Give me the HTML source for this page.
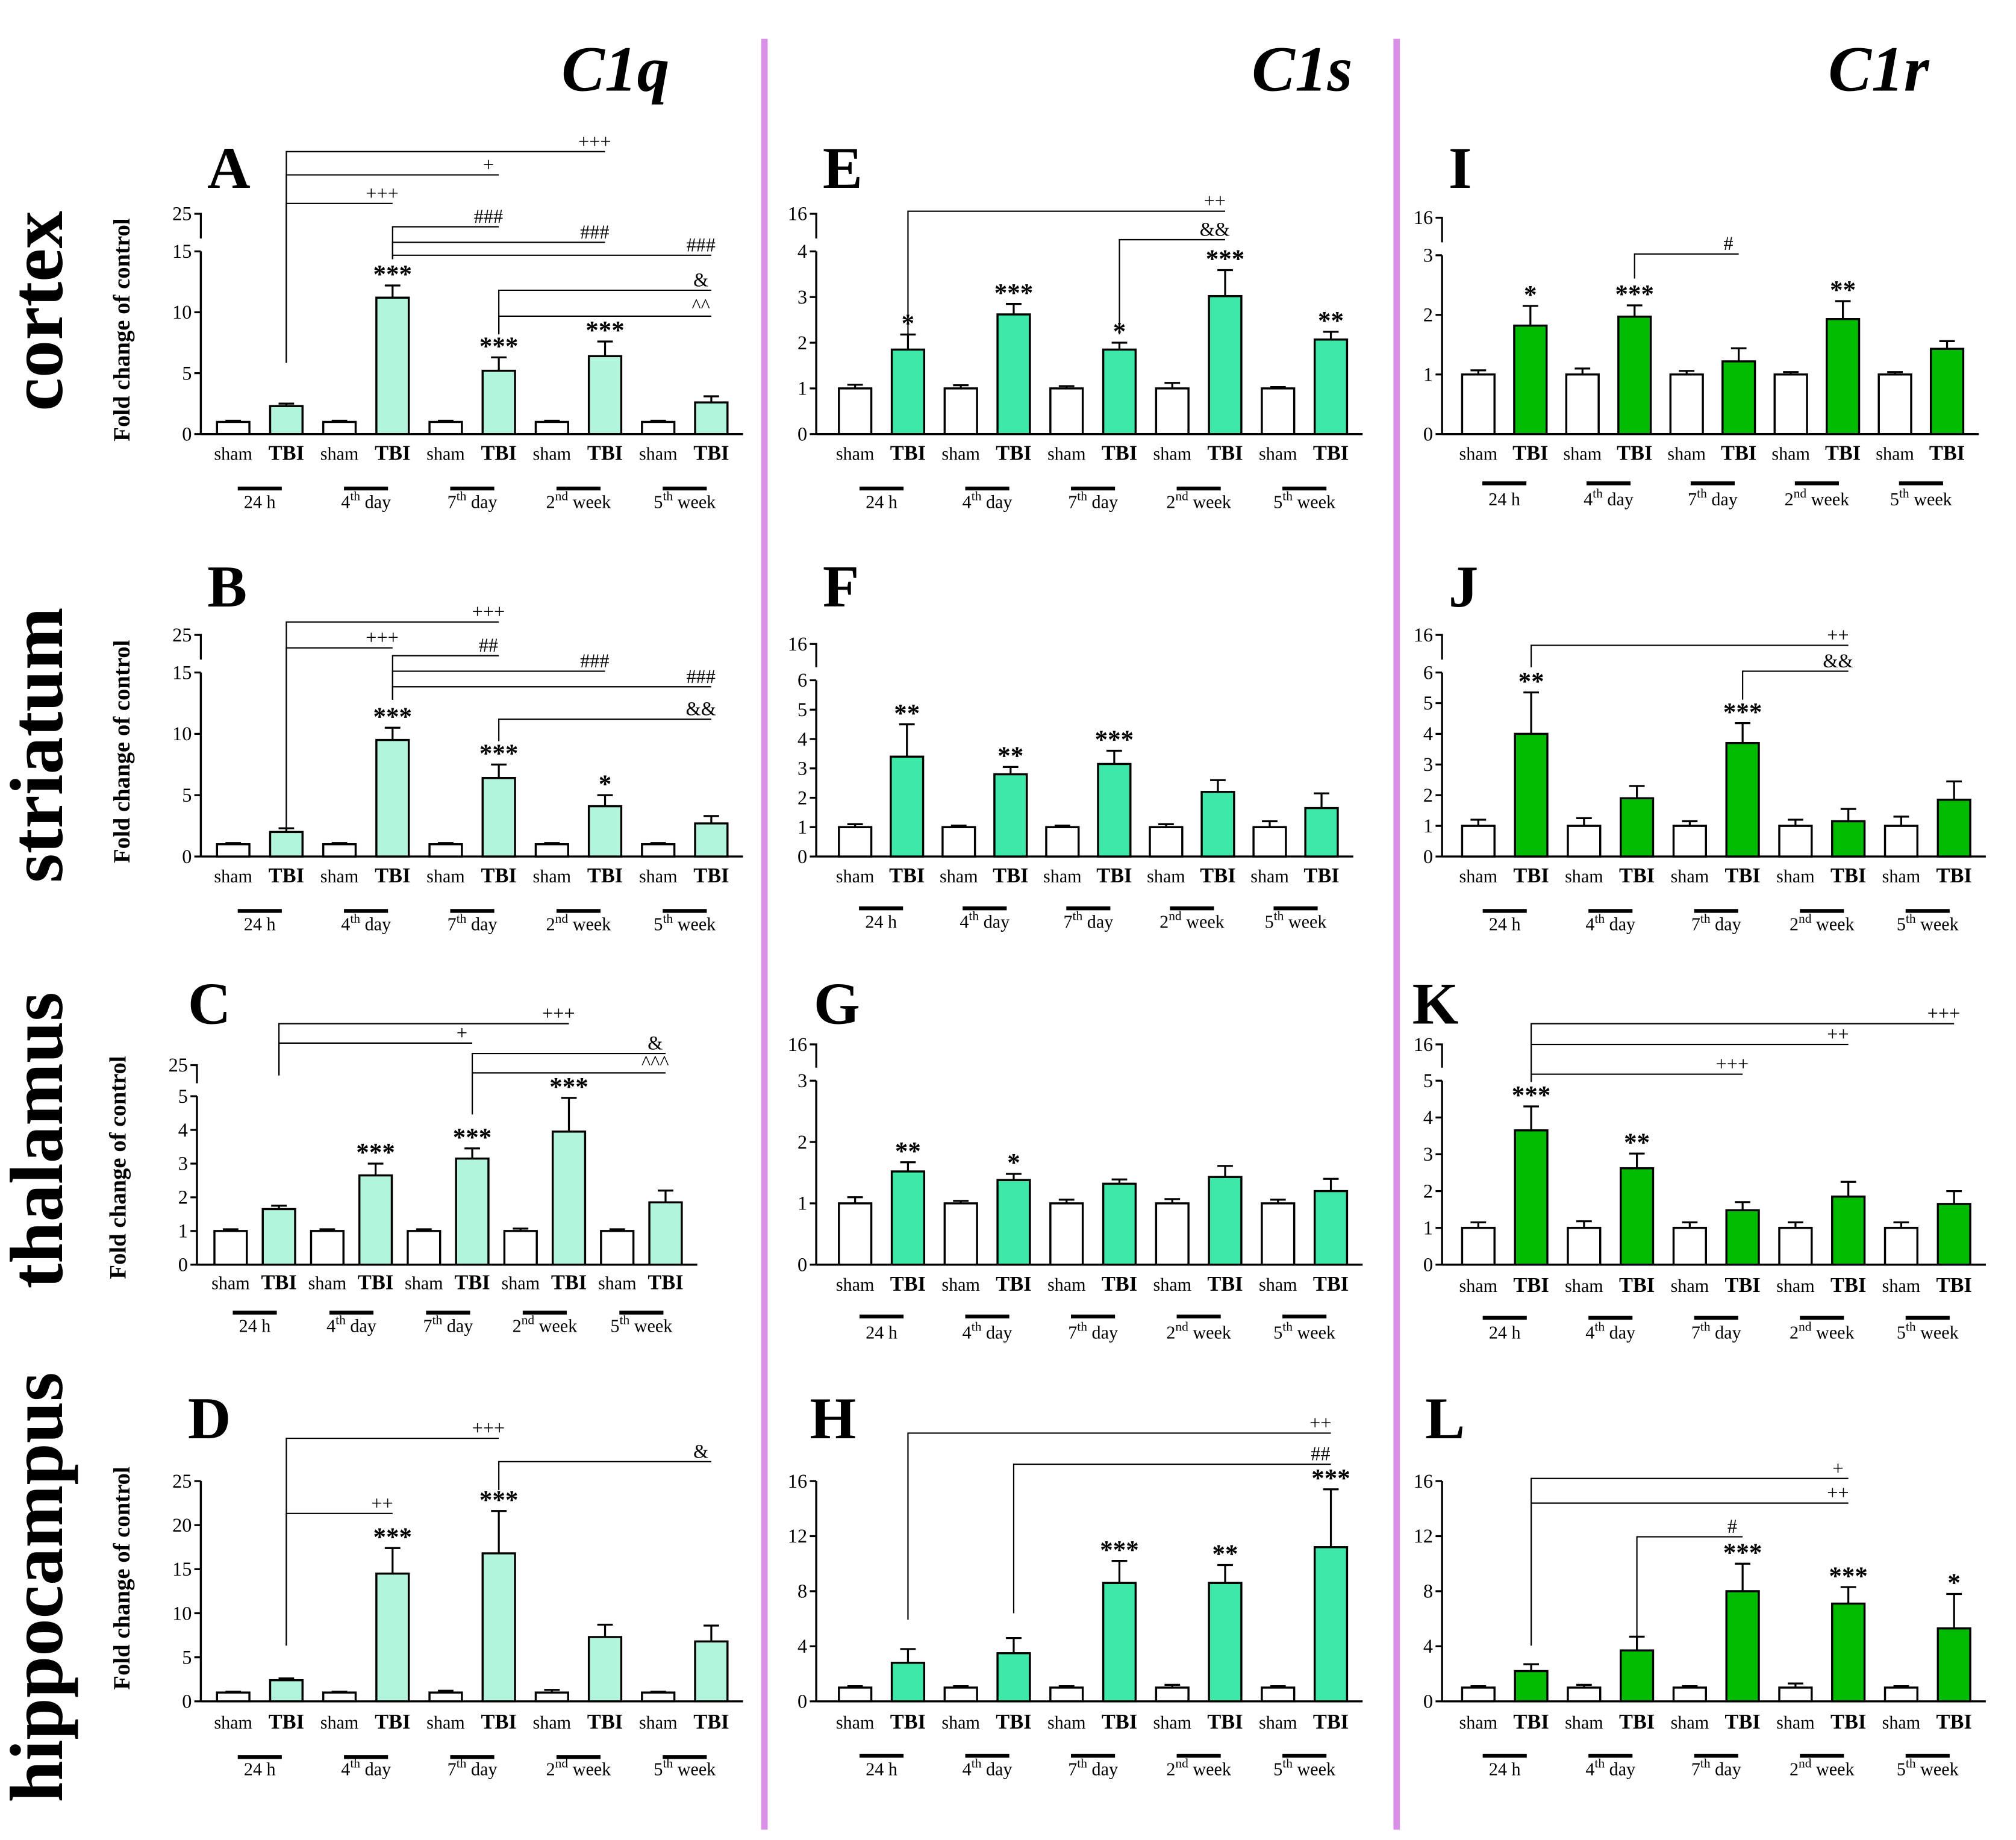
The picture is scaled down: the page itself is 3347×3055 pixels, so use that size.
<!DOCTYPE html>
<html><head><meta charset="utf-8"><style>
html,body{margin:0;padding:0;background:#fff;}
svg{display:block;}
text{font-family:"Liberation Serif",serif;}
</style></head><body>
<svg id="fig" xmlns="http://www.w3.org/2000/svg" width="3347" height="3055" viewBox="0 0 1556 1420" preserveAspectRatio="none">
<rect width="1556" height="1420" fill="#fff"/>
<line x1="590" y1="30" x2="590" y2="1412" stroke="#d98ee8" stroke-width="5"/>
<line x1="1078" y1="30" x2="1078" y2="1412" stroke="#d98ee8" stroke-width="5"/>
<text x="475" y="70" font-size="50" font-weight="bold" font-style="italic" text-anchor="middle">C1q</text>
<text x="1005" y="70" font-size="50" font-weight="bold" font-style="italic" text-anchor="middle">C1s</text>
<text x="1450" y="70" font-size="50" font-weight="bold" font-style="italic" text-anchor="middle">C1r</text>
<text transform="translate(48,240) rotate(-90)" font-size="58" font-weight="bold" text-anchor="middle">cortex</text>
<text transform="translate(48,575) rotate(-90)" font-size="58" font-weight="bold" text-anchor="middle">striatum</text>
<text transform="translate(48,880) rotate(-90)" font-size="58" font-weight="bold" text-anchor="middle">thalamus</text>
<text transform="translate(48,1225) rotate(-90)" font-size="58" font-weight="bold" text-anchor="middle">hippocampus</text>
</svg>
<script>
const timeLabels = [["24 h",""],["4","th day"],["7","th day"],["2","nd week"],["5","th week"]];
const groupLabels = ["sham","TBI"];
// values per panel
const valA=[1,2.3,1,11.2,1,5.2,1,6.4,1,2.6], errA=[.1,.2,.1,1,.1,1.1,.1,1.2,.1,.5];
const valE=[1,1.85,1,2.62,1,1.85,1,3.02,1,2.07], errE=[.08,.33,.07,.23,.05,.15,.12,.57,.03,.17];
const valI=[1,1.82,1,1.97,1,1.22,1,1.93,1,1.43], errI=[.07,.33,.1,.19,.06,.22,.04,.3,.04,.13];
const valB=[1,2,1,9.5,1,6.4,1,4.1,1,2.7], errB=[.1,.3,.1,1,.1,1.1,.1,.9,.1,.6];
const valF=[1,3.4,1,2.8,1,3.15,1,2.2,1,1.65], errF=[.1,1.1,.05,.25,.05,.45,.1,.4,.2,.5];
const valJ=[1,4,1,1.9,1,3.7,1,1.15,1,1.85], errJ=[.2,1.35,.25,.4,.15,.65,.2,.4,.3,.6];
const valC=[1,1.65,1,2.65,1,3.15,1,3.95,1,1.85], errC=[.05,.1,.05,.35,.05,.3,.07,1,.05,.35];
const valG=[1,1.52,1,1.38,1,1.32,1,1.43,1,1.2], errG=[.1,.15,.04,.1,.06,.07,.07,.18,.06,.2];
const valK=[1,3.65,1,2.62,1,1.48,1,1.85,1,1.65], errK=[.15,.65,.18,.4,.15,.22,.15,.4,.15,.35];
const valD=[1,2.4,1,14.5,1,16.8,1,7.3,1,6.8], errD=[.1,.2,.1,2.9,.2,4.8,.3,1.4,.1,1.8];
const valH=[1,2.8,1,3.5,1,8.6,1,8.6,1,11.2], errH=[.1,1,.1,1.1,.1,1.6,.2,1.3,.1,4.2];
const valL=[1,2.2,1,3.7,1,8,1,7.1,1,5.3], errL=[.1,.5,.2,1,.1,2,.3,1.2,.1,2.5];
const starsA=["","","","***","","***","","***","",""], starsE=["","*","","***","","*","","***","","**"], starsI=["","*","","***","","","","**","",""];
const starsB=["","","","***","","***","","*","",""], starsF=["","**","","**","","***","","","",""], starsJ=["","**","","","","***","","","",""];
const starsC=["","","","***","","***","","***","",""], starsG=["","**","","*","","","","","",""], starsK=["","***","","**","","","","","",""];
const starsD=["","","","***","","***","","","",""], starsH=["","","","","","***","","**","","***"], starsL=["","","","","","***","","***","","*"];
const ticksA=[0,5,10,15], ticksE=[0,1,2,3,4], ticksI=[0,1,2,3], ticks6=[0,1,2,3,4,5,6], ticksC=[0,1,2,3,4,5], ticksG=[0,1,2,3], ticksD=[0,5,10,15,20,25], ticksH=[0,4,8,12,16];

const C1='#b3f5dc', C2='#3de8a8', C3='#00bb00';
const panels=[
 {id:'A',ax:155,y0:335,ymax:15,ytop:194,brk:'25',brkY:165,b0:180,sp:41,val:valA,err:errA,st:starsA,ticks:ticksA,col:C1,ly:355,uy:377,ty:392,title:true,lx:160,lyL:145,
  br:[[1,280,117,7,'+++'],[1,280,135,5,'+'],[1,280,157,3,'+++'],[3,200,175,5,'###'],[3,200,187,7,'###'],[3,200,197,9,'###'],[5,258,224,9,'&'],[5,258,244,9,'^^']]},
 {id:'E',ax:630,y0:335,ymax:4,ytop:194,brk:'16',brkY:165,b0:660,sp:40.8,val:valE,err:errE,st:starsE,ticks:ticksE,col:C2,ly:355,uy:377,ty:392,lx:635,lyL:145,
  br:[[1,260,163,7,'++'],[5,258,185,7,'&&']]},
 {id:'I',ax:1113,y0:335,ymax:3,ytop:197,brk:'16',brkY:168,b0:1141,sp:40.2,val:valI,err:errI,st:starsI,ticks:ticksI,col:C3,ly:355,uy:373,ty:390,lx:1118,lyL:145,
  br:[[3,215,196,5,'#']]},
 {id:'B',ax:155,y0:661,ymax:15,ytop:519,brk:'25',brkY:490,b0:180,sp:41,val:valB,err:errB,st:starsB,ticks:ticksA,col:C1,ly:681,uy:703,ty:718,title:true,lx:160,lyL:468,
  br:[[1,640,480,5,'+++'],[1,640,500,3,'+++'],[3,540,506,5,'##'],[3,540,518,7,'###'],[3,540,530,9,'###'],[5,572,555,9,'&&']]},
 {id:'F',ax:630,y0:661,ymax:6,ytop:525,brk:'16',brkY:497,b0:660,sp:40,val:valF,err:errF,st:starsF,ticks:ticks6,col:C2,ly:681,uy:701,ty:716,lx:635,lyL:468,br:[]},
 {id:'J',ax:1113,y0:661,ymax:6,ytop:519,brk:'16',brkY:490,b0:1141,sp:40.8,val:valJ,err:errJ,st:starsJ,ticks:ticks6,col:C3,ly:681,uy:703,ty:718,lx:1118,lyL:468,
  br:[[1,515,498,7,'++'],[5,540,518,7,'&&']]},
 {id:'C',ax:152,y0:976,ymax:5,ytop:846,brk:'25',brkY:822,b0:178,sp:37.3,val:valC,err:errC,st:starsC,ticks:ticksC,col:C1,ly:995,uy:1013,ty:1028,title:true,lx:145,lyL:790,
  br:[[1,830,790,7,'+++'],[1,830,805,5,'+'],[5,860,813,9,'&'],[5,860,828,9,'^^^']]},
 {id:'G',ax:630,y0:976,ymax:3,ytop:834,brk:'16',brkY:806,b0:660,sp:40.8,val:valG,err:errG,st:starsG,ticks:ticksG,col:C2,ly:996,uy:1016,ty:1033,lx:628,lyL:790,br:[]},
 {id:'K',ax:1113,y0:976,ymax:5,ytop:834,brk:'16',brkY:806,b0:1141,sp:40.8,val:valK,err:errK,st:starsK,ticks:ticksC,col:C3,ly:997,uy:1017,ty:1033,lx:1090,lyL:790,
  br:[[1,835,790,9,'+++'],[1,835,806,7,'++'],[1,835,829,5,'+++']]},
 {id:'D',ax:155,y0:1313,ymax:25,ytop:1143,b0:180,sp:41,val:valD,err:errD,st:starsD,ticks:ticksD,col:C1,ly:1334,uy:1356,ty:1370,title:true,lx:145,lyL:1110,
  br:[[1,1270,1110,5,'+++'],[1,1270,1168,3,'++'],[5,1150,1128,9,'&']]},
 {id:'H',ax:630,y0:1313,ymax:16,ytop:1143,b0:660,sp:40.8,val:valH,err:errH,st:starsH,ticks:ticksH,col:C2,ly:1334,uy:1355,ty:1370,lx:625,lyL:1110,
  br:[[1,1250,1106,9,'++'],[3,1245,1130,9,'##']]},
 {id:'L',ax:1113,y0:1313,ymax:16,ytop:1143,b0:1141,sp:40.8,val:valL,err:errL,st:starsL,ticks:ticksH,col:C3,ly:1334,uy:1355,ty:1370,lx:1100,lyL:1110,
  br:[[1,1270,1141,7,'+'],[1,1270,1160,7,'++'],[3,1265,1186,5,'#']]}
];
const NS='http://www.w3.org/2000/svg';
const svg=document.getElementById('fig');
function mk(tag,attrs,parent,txt){const e=document.createElementNS(NS,tag);for(const k in attrs)e.setAttribute(k,attrs[k]);if(txt!==undefined)e.textContent=txt;(parent||svg).appendChild(e);return e;}
panels.forEach(p=>{
  const g=mk('g',{});
  
  
  const ys=v=>p.y0-(v/p.ymax)*(p.y0-p.ytop);
  const xs=i=>p.b0+i*p.sp;
  const bw=25;
  const pl=mk('text',{x:p.lx,y:p.lyL,'font-size':46,'font-weight':'bold'},g,p.id);
  
  
  // y axis
  const ya=mk('line',{x1:p.ax,y1:p.y0,x2:p.ax,y2:p.ytop,stroke:'#000','stroke-width':1.6},g);
  
  
  p.ticks.forEach(t=>{
    mk('line',{x1:p.ax-5,y1:ys(t),x2:p.ax,y2:ys(t),stroke:'#000','stroke-width':1.5},g);
    const tl=mk('text',{x:p.ax-7,y:ys(t)+5,'font-size':15,'text-anchor':'end'},g,String(t));
    
    
  });
  if(p.brk){
    mk('path',{d:`M${p.ax},${p.ytop-10} L${p.ax},${p.brkY} L${p.ax-5},${p.brkY}`,fill:'none',stroke:'#000','stroke-width':1.5},g);
    const bl=mk('text',{x:p.ax-7,y:p.brkY+5,'font-size':15,'text-anchor':'end'},g,p.brk);
    
    
  }
  const xa=mk('line',{x1:p.ax,y1:p.y0,x2:xs(9)+bw/2+12,y2:p.y0,stroke:'#000','stroke-width':1.6},g);
  
  
  if(p.title){
    const yt=mk('text',{transform:`translate(${p.ax-55},${(p.y0+p.ytop)/2-10}) rotate(-90)`,'font-size':18,'font-weight':'bold','text-anchor':'middle'},g,'Fold change of control');
    
    
  }
  p.val.forEach((v,i)=>{
    const x=xs(i), top=ys(v), etop=ys(v+p.err[i]);
    mk('line',{x1:x,y1:top,x2:x,y2:etop,stroke:'#000','stroke-width':1.5},g);
    mk('line',{x1:x-6,y1:etop,x2:x+6,y2:etop,stroke:'#000','stroke-width':1.5},g);
    const r=mk('rect',{x:x-bw/2,y:top,width:bw,height:p.y0-top,fill:i%2?p.col:'#fff',stroke:'#000','stroke-width':1.6},g);
    
    
    if(p.st[i]){
      const s=mk('text',{x:x,y:etop-2,'font-size':20,'font-weight':'bold','text-anchor':'middle'},g,p.st[i]);
      
      
    }
    const gl=mk('text',{x:x,y:p.ly,'font-size':i%2?16:14,'font-weight':i%2?'bold':'normal','text-anchor':'middle'},g,groupLabels[i%2]);
    
    
  });
  timeLabels.forEach((t,k)=>{
    const cx=(xs(2*k)+xs(2*k+1))/2;
    mk('line',{x1:cx-17,y1:p.uy,x2:cx+17,y2:p.uy,stroke:'#000','stroke-width':3},g);
    const tt=mk('text',{x:cx,y:p.ty,'font-size':14,'text-anchor':'middle'},g);
    
    
    if(t[1]===''){tt.textContent=t[0];}
    else{mk('tspan',{},tt,t[0]);mk('tspan',{dy:-6,'font-size':10},tt,t[1].split(' ')[0]);mk('tspan',{dy:6},tt,' '+t[1].split(' ')[1]);}
  });
  p.br.forEach(b=>{
    const x1=xs(b[0]), x2=xs(b[3]);
    mk('path',{d:`M${x1},${b[1]} L${x1},${b[2]} L${x2},${b[2]}`,fill:'none',stroke:'#000','stroke-width':1},g);
    const bt=mk('text',{x:x2-8,y:b[2]-3,'font-size':15,'text-anchor':'middle'},g,b[4]);
    
    
  });
});
</script>
</body></html>
